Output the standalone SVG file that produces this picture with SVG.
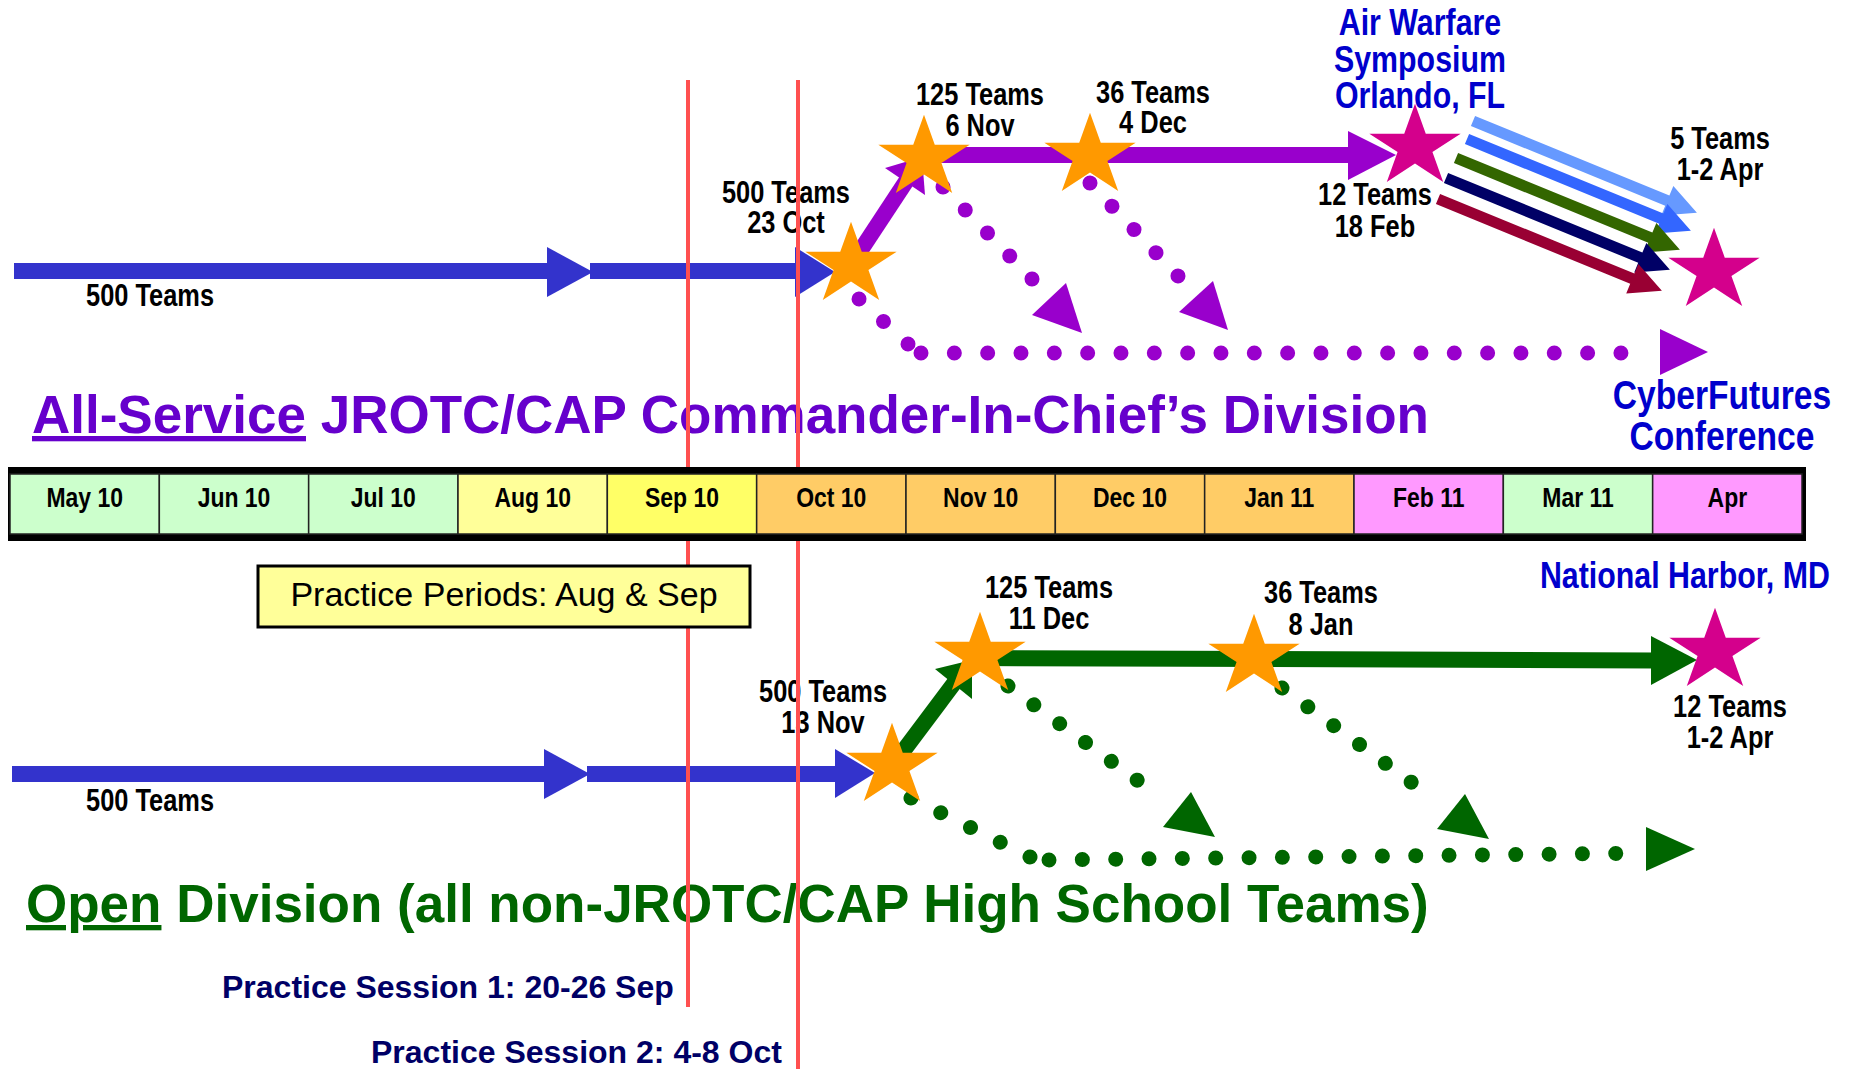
<svg xmlns="http://www.w3.org/2000/svg" width="1853" height="1069" viewBox="0 0 1853 1069">
<defs>
<path id="star" d="M0,-43.2 L10.77,-13.35 L45.65,-13.35 L17.43,5.09 L28.21,34.95 L0,16.5 L-28.21,34.95 L-17.43,5.09 L-45.65,-13.35 L-10.77,-13.35 Z"/>
<path id="fat" d="M0,-5.5 H210 V-16 L242,0 L210,16 V5.5 H0 Z"/>
</defs>
<style>
.n{font-family:"Liberation Sans",Arial,sans-serif;font-weight:bold;font-size:31px;text-anchor:middle;fill:#000;transform:scale(0.82,1)}
.s{text-anchor:start}
.bl{fill:#0000cc;font-size:37px}
.m{font-size:28px}
.t{font-family:"Liberation Sans",Arial,sans-serif;font-weight:bold;font-size:53px}
.ps{font-family:"Liberation Sans",Arial,sans-serif;font-weight:bold;font-size:32px;fill:#000066}
.dot{fill:none;stroke-linecap:round;stroke-width:15}
.pd{stroke:#9900cc}
.gd{stroke:#006600}
.shaft{fill:none;stroke-width:16}
.red{stroke:#ff5050;stroke-width:4}
.orange{fill:#ff9900}
.mag{fill:#d4008c}
.cell{stroke:#222;stroke-width:1.5}
</style>

<g id="connectors">
  <line class="shaft" x1="14" y1="271" x2="550" y2="271" stroke="#3333cc"/>
  <polygon points="547,247 593,272 547,297" fill="#3333cc"/>
  <line class="shaft" x1="590" y1="271" x2="798" y2="271" stroke="#3333cc"/>
  <polygon points="795,247 835,272 795,297" fill="#3333cc"/>
  <line class="shaft" x1="851" y1="265" x2="907" y2="180" stroke="#9900cc"/>
  <polygon points="885,168 922,157 925,195" fill="#9900cc"/>
  <line class="shaft" x1="920" y1="155" x2="1350" y2="155" stroke="#9900cc"/>
  <polygon points="1348,131 1396,155 1348,180" fill="#9900cc"/>
  <path class="dot pd" d="M943,187 L1032,279" stroke-dasharray="0.01 31.99"/>
  <polygon points="1032,315 1066,283 1082,333" fill="#9900cc"/>
  <path class="dot pd" d="M1090,183 L1178,276" stroke-dasharray="0.01 31.99"/>
  <polygon points="1179,312 1213,281 1228,330" fill="#9900cc"/>
  <path class="dot pd" d="M859,299 L908,344" stroke-dasharray="0.01 33.24"/>
  <path class="dot pd" d="M921,353 L1621,353" stroke-dasharray="0.01 33.32"/>
  <polygon points="1660,329 1708,352 1660,375" fill="#9900cc"/>
  <use href="#fat" transform="translate(1473,121) rotate(22.3)" fill="#6699ff"/>
  <use href="#fat" transform="translate(1467,139) rotate(22.3)" fill="#3366ff"/>
  <use href="#fat" transform="translate(1456,158) rotate(22.3)" fill="#336600"/>
  <use href="#fat" transform="translate(1446,178) rotate(22.3)" fill="#000066"/>
  <use href="#fat" transform="translate(1438,199) rotate(22.3)" fill="#990033"/>
  <line class="shaft" x1="12" y1="774" x2="547" y2="774" stroke="#3333cc"/>
  <polygon points="544,749 590,774 544,799" fill="#3333cc"/>
  <line class="shaft" x1="587" y1="774" x2="838" y2="774" stroke="#3333cc"/>
  <polygon points="835,749 875,773 835,798" fill="#3333cc"/>
  <line class="shaft" x1="892" y1="766" x2="955" y2="682" stroke="#006600"/>
  <polygon points="935,669 972,660 972,699" fill="#006600"/>
  <line class="shaft" x1="976" y1="658" x2="1654" y2="660.5" stroke="#006600" stroke-width="17"/>
  <polygon points="1651,636 1697,660 1651,685" fill="#006600"/>
  <path class="dot gd" d="M1008,686 L1163,799" stroke-dasharray="0.01 31.96"/>
  <polygon points="1163,827 1191,792 1215,837" fill="#006600"/>
  <path class="dot gd" d="M1282,688 L1437,801" stroke-dasharray="0.01 31.96"/>
  <polygon points="1437,829 1465,794 1489,839" fill="#006600"/>
  <path class="dot gd" d="M911,798 L1030,857" stroke-dasharray="0.01 33.19"/>
  <path class="dot gd" d="M1049,860 L1649,853" stroke-dasharray="0.01 33.33"/>
  <polygon points="1646,827 1695,849 1646,871" fill="#006600"/>
</g>

<g id="start-top">
  <text class="n s" x="104.9" y="306">500 Teams</text>
</g>
<g id="node-23oct">
  <use href="#star" x="851" y="265" class="orange"/>
  <text class="n" x="958.5" y="203">500 Teams</text>
  <text class="n" x="958.5" y="233">23 Oct</text>
</g>
<g id="node-6nov">
  <use href="#star" x="924" y="158" class="orange"/>
  <text class="n" x="1195.1" y="105">125 Teams</text>
  <text class="n" x="1195.1" y="136">6 Nov</text>
</g>
<g id="node-4dec">
  <use href="#star" x="1090" y="156" class="orange"/>
  <text class="n" x="1406.1" y="103">36 Teams</text>
  <text class="n" x="1406.1" y="133">4 Dec</text>
</g>
<g id="node-18feb">
  <use href="#star" x="1415" y="147" class="mag"/>
  <text class="n bl" x="1731.7" y="35">Air Warfare</text>
  <text class="n bl" x="1731.7" y="72">Symposium</text>
  <text class="n bl" x="1731.7" y="108">Orlando, FL</text>
  <text class="n" x="1676.8" y="205">12 Teams</text>
  <text class="n" x="1676.8" y="237">18 Feb</text>
</g>
<g id="node-apr-top">
  <use href="#star" x="1714" y="271" class="mag"/>
  <text class="n" x="2097.6" y="149">5 Teams</text>
  <text class="n" x="2097.6" y="180">1-2 Apr</text>
  <text class="n bl" x="2100" y="409" style="font-size:41px">CyberFutures</text>
  <text class="n bl" x="2100" y="450" style="font-size:41px">Conference</text>
</g>

<g id="title-all">
  <text class="t" x="32" y="433" fill="#6600cc"><tspan text-decoration="underline">All-Service</tspan> JROTC/CAP Commander-In-Chief’s Division</text>
</g>

<g id="start-bottom">
  <text class="n s" x="104.9" y="811">500 Teams</text>
</g>
<g id="node-13nov">
  <use href="#star" x="892" y="766" class="orange"/>
  <text class="n" x="1003.7" y="702">500 Teams</text>
  <text class="n" x="1003.7" y="733">13 Nov</text>
</g>
<g id="node-11dec">
  <use href="#star" x="980" y="655" class="orange"/>
  <text class="n" x="1279.3" y="598">125 Teams</text>
  <text class="n" x="1279.3" y="629">11 Dec</text>
</g>
<g id="node-8jan">
  <use href="#star" x="1254" y="657" class="orange"/>
  <text class="n" x="1611" y="603">36 Teams</text>
  <text class="n" x="1611" y="635">8 Jan</text>
</g>
<g id="node-apr-bottom">
  <use href="#star" x="1715" y="651" class="mag"/>
  <text class="n bl s" x="1878" y="588">National Harbor, MD</text>
  <text class="n" x="2109.8" y="717">12 Teams</text>
  <text class="n" x="2109.8" y="748">1-2 Apr</text>
</g>

<g id="title-open">
  <text class="t" x="26" y="922" fill="#006600"><tspan text-decoration="underline">Open</tspan> Division (all non-JROTC/CAP High School Teams)</text>
</g>

<g id="practice-sessions">
  <text class="ps" x="222" y="998">Practice Session 1: 20-26 Sep</text>
  <text class="ps" x="371" y="1063">Practice Session 2: 4-8 Oct</text>
</g>

<g id="red-lines">
  <line class="red" x1="688" y1="80" x2="688" y2="1007"/>
  <line class="red" x1="798" y1="80" x2="798" y2="1069"/>
</g>

<g id="timeline">
  <rect x="8" y="467" width="1798" height="74" fill="#000"/>
  <rect class="cell" x="10" y="474" width="149.33" height="60" fill="#ccffcc"/>
  <rect class="cell" x="159.33" y="474" width="149.33" height="60" fill="#ccffcc"/>
  <rect class="cell" x="308.67" y="474" width="149.33" height="60" fill="#ccffcc"/>
  <rect class="cell" x="458" y="474" width="149.33" height="60" fill="#ffff99"/>
  <rect class="cell" x="607.33" y="474" width="149.33" height="60" fill="#ffff66"/>
  <rect class="cell" x="756.67" y="474" width="149.33" height="60" fill="#ffcc66"/>
  <rect class="cell" x="906" y="474" width="149.33" height="60" fill="#ffcc66"/>
  <rect class="cell" x="1055.33" y="474" width="149.33" height="60" fill="#ffcc66"/>
  <rect class="cell" x="1204.67" y="474" width="149.33" height="60" fill="#ffcc66"/>
  <rect class="cell" x="1354" y="474" width="149.33" height="60" fill="#ff99ff"/>
  <rect class="cell" x="1503.33" y="474" width="149.33" height="60" fill="#ccffcc"/>
  <rect class="cell" x="1652.67" y="474" width="149.33" height="60" fill="#ff99ff"/>
  <text class="n m" x="103.3" y="507">May 10</text>
  <text class="n m" x="285.4" y="507">Jun 10</text>
  <text class="n m" x="467.4" y="507">Jul 10</text>
  <text class="n m" x="649.6" y="507">Aug 10</text>
  <text class="n m" x="831.7" y="507">Sep 10</text>
  <text class="n m" x="1013.8" y="507">Oct 10</text>
  <text class="n m" x="1196" y="507">Nov 10</text>
  <text class="n m" x="1378" y="507">Dec 10</text>
  <text class="n m" x="1560.1" y="507">Jan 11</text>
  <text class="n m" x="1742.3" y="507">Feb 11</text>
  <text class="n m" x="1924.4" y="507">Mar 11</text>
  <text class="n m" x="2106.5" y="507">Apr</text>
</g>

<g id="practice-box">
  <rect x="258" y="566" width="492" height="61" fill="#ffff99" stroke="#000" stroke-width="3"/>
  <text x="504" y="606" text-anchor="middle" font-family="Liberation Sans, Arial, sans-serif" font-size="34" fill="#000">Practice Periods: Aug &amp; Sep</text>
</g>
</svg>
